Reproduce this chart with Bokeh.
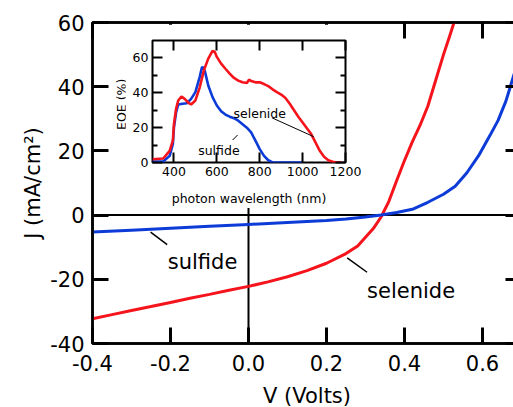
import math
from bokeh.plotting import figure
from bokeh.models import (Span, Label, LinearAxis, FixedTicker, CustomJSTickFormatter,
                          Range1d)
from bokeh.embed import file_html
from bokeh.resources import INLINE

FONT = "DejaVu Sans"
RED = "#f5141c"
BLUE = "#0c3bd8"

# ---------------- data: J-V curves (main) ----------------
v_selenide = [-0.4, -0.35, -0.3, -0.25, -0.2, -0.15, -0.1, -0.05, 0.0, 0.05, 0.1, 0.15,
              0.2, 0.25, 0.28, 0.3, 0.32, 0.34, 0.36, 0.38, 0.40, 0.42, 0.44, 0.46,
              0.48, 0.50, 0.515, 0.527]
j_selenide = [-32.3, -31.0, -29.7, -28.5, -27.2, -25.9, -24.7, -23.4, -22.2, -20.8, -19.2, -17.3,
              -15.0, -12.0, -9.6, -6.9, -4.2, -0.6, 4.3, 10.8, 17.0, 22.8, 28.0, 34.0,
              42.0, 50.0, 55.5, 60.0]

v_sulfide = [-0.4, -0.3, -0.2, -0.1, 0.0, 0.1, 0.2, 0.25, 0.3, 0.34, 0.38, 0.42, 0.46,
             0.5, 0.53, 0.56, 0.59, 0.62, 0.64, 0.66, 0.68, 0.70]
j_sulfide = [-5.3, -4.7, -4.1, -3.5, -2.9, -2.3, -1.7, -1.2, -0.6, 0.0, 0.8, 1.8, 4.0,
             6.5, 9.0, 13.2, 18.5, 25.0, 29.5, 35.5, 43.5, 51.0]

x_ticks = [-0.4, -0.2, 0.0, 0.2, 0.4, 0.6]
y_ticks = [-40, -20, 0, 20, 40, 60]

# ---------------- data: EQE spectra (inset) ----------------
wl_selenide = [300, 350, 380, 395, 400, 410, 420, 435, 450, 470, 480, 500, 520, 540, 560, 580,
               590, 600, 620, 640, 660, 680, 700, 720, 740, 750, 760, 780, 800, 820, 840,
               860, 880, 900, 920, 940, 960, 980, 1000, 1020, 1040, 1060, 1080, 1100, 1120,
               1140, 1160, 1180]
eqe_selenide = [1.9, 2.3, 6.7, 12.5, 22.0, 30.8, 35.6, 37.9, 36.5, 34.0, 33.3, 35.6, 43.0, 53.0,
                59.6, 64.0, 63.5, 60.6, 56.7, 53.8, 51.0, 48.5, 47.0, 46.0, 45.6, 47.5, 46.7,
                46.0, 46.0, 45.0, 43.8, 42.0, 40.4, 39.0, 37.0, 33.7, 30.0, 26.3, 23.0, 19.6,
                16.3, 11.5, 6.7, 3.3, 1.3, 0.4, 0.0, 0.0]

wl_sulfide = [300, 350, 380, 395, 400, 410, 420, 440, 460, 480, 500, 520, 530, 535, 545, 560,
              580, 600, 620, 640, 660, 680, 700, 720, 740, 760, 780, 800, 820, 840, 860, 1000]
eqe_sulfide = [0.5, 0.6, 3.8, 10.6, 20.0, 28.8, 33.3, 33.7, 34.0, 36.5, 40.4, 49.0, 54.4, 54.8,
               52.0, 44.2, 37.5, 32.7, 29.4, 27.5, 26.3, 25.4, 24.0, 22.0, 20.0, 17.3, 12.5,
               7.7, 3.8, 1.3, 0.0, 0.0]

ins_x_ticks = [400, 600, 800, 1000, 1200]
ins_y_ticks = [0, 20, 40, 60]
ins_y_minor = [10, 30, 50]

# ---------------- main figure ----------------
# The original picture is cropped on the right/bottom: the frame runs to 0.7 V,
# slightly past the visible window, so the canvas is a little larger than the window.
p = figure(width=525, height=418, x_range=Range1d(-0.4, 0.7), y_range=Range1d(-40, 60),
           output_backend="svg", toolbar_location=None,
           min_border_left=92, min_border_top=22, min_border_bottom=75, min_border_right=4)
p.outline_line_color = "black"
p.outline_line_width = 2.5
p.xgrid.visible = False
p.ygrid.visible = False
p.background_fill_color = "white"
p.border_fill_color = "white"

def style_main_axis(ax, ticks, show_labels=True):
    ax.ticker = FixedTicker(ticks=ticks)
    ax.major_tick_in = 16
    ax.major_tick_out = 0
    ax.major_tick_line_width = 3
    ax.major_tick_line_color = "black"
    ax.minor_tick_line_color = None
    ax.axis_line_width = 2.5
    ax.axis_line_color = "black"
    ax.major_label_text_font = FONT
    if show_labels:
        ax.major_label_text_font_size = "21px"
        ax.major_label_text_color = "black"
    else:
        ax.major_label_text_font_size = "0px"
        ax.major_label_text_color = None
        ax.major_label_standoff = 0

style_main_axis(p.xaxis[0], x_ticks)
p.xaxis[0].formatter = CustomJSTickFormatter(code="return tick.toFixed(1)")
p.xaxis[0].major_label_standoff = 11
p.xaxis[0].axis_label = "V (Volts)"
style_main_axis(p.yaxis[0], y_ticks)
p.yaxis[0].formatter = CustomJSTickFormatter(code="return tick.toFixed(0)")
p.yaxis[0].major_label_standoff = 8
p.yaxis[0].axis_label = "J (mA/cm²)"
for ax in (p.xaxis[0], p.yaxis[0]):
    ax.axis_label_text_font = FONT
    ax.axis_label_text_font_size = "21px"
    ax.axis_label_text_font_style = "normal"
    ax.axis_label_text_color = "black"
p.xaxis[0].axis_label_standoff = 10
p.yaxis[0].axis_label_standoff = 2

top_ax = LinearAxis()
style_main_axis(top_ax, x_ticks, show_labels=False)
p.add_layout(top_ax, "above")
right_ax = LinearAxis()
style_main_axis(right_ax, y_ticks, show_labels=False)
p.add_layout(right_ax, "right")

p.add_layout(Span(location=0, dimension="width", line_color="black", line_width=2, level="underlay"))
p.add_layout(Span(location=0, dimension="height", line_color="black", line_width=2, level="underlay"))

p.line(v_selenide, j_selenide, line_color=RED, line_width=3)
p.line(v_sulfide, j_sulfide, line_color=BLUE, line_width=3)

p.segment(x0=[-0.251], y0=[-5.3], x1=[-0.2085], y1=[-9.2], line_color="black", line_width=1.5)
p.segment(x0=[0.253], y0=[-13.3], x1=[0.304], y1=[-17.8], line_color="black", line_width=1.5)
p.add_layout(Label(x=-0.207, y=-14.7, text="sulfide", text_font=FONT, text_font_size="21px",
                   text_color="black", text_baseline="alphabetic", text_align="left"))
p.add_layout(Label(x=0.304, y=-23.5, text="selenide", text_font=FONT, text_font_size="21px",
                   text_color="black", text_baseline="alphabetic", text_align="left"))

# y title of the inset: it sits left of the inset canvas, inside the main frame
p.add_layout(Label(x=-0.3256, y=34.5, text="EQE (%)", text_font=FONT, text_font_size="12.5px",
                   text_color="black", text_baseline="alphabetic", text_align="center",
                   angle=math.pi / 2))

# ---------------- inset figure ----------------
ins = figure(frame_width=193, frame_height=122, x_range=Range1d(300, 1200), y_range=Range1d(0, 70),
             output_backend="svg", toolbar_location=None,
             min_border_left=27, min_border_top=16, min_border_right=17, min_border_bottom=44)
ins.xgrid.visible = False
ins.ygrid.visible = False
ins.outline_line_color = "black"
ins.outline_line_width = 2
ins.background_fill_color = "white"
ins.border_fill_color = "white"

def style_ins_axis(ax, ticks, minor=None, show_labels=True):
    ax.ticker = FixedTicker(ticks=ticks, minor_ticks=minor or [])
    ax.major_tick_in = 10
    ax.major_tick_out = 0
    ax.major_tick_line_width = 2
    ax.minor_tick_in = 5
    ax.minor_tick_out = 0
    ax.minor_tick_line_width = 2
    ax.minor_tick_line_color = "black" if minor else None
    ax.axis_line_color = None
    ax.major_label_text_font = FONT
    if show_labels:
        ax.major_label_text_font_size = "12.5px"
        ax.major_label_text_color = "black"
        ax.major_label_standoff = 4
    else:
        ax.major_label_text_font_size = "0px"
        ax.major_label_text_color = None
        ax.major_label_standoff = 0

style_ins_axis(ins.xaxis[0], ins_x_ticks)
ins.xaxis[0].axis_label = "photon wavelength (nm)"
ins.xaxis[0].axis_label_text_font = FONT
ins.xaxis[0].axis_label_text_font_size = "12.5px"
ins.xaxis[0].axis_label_text_font_style = "normal"
ins.xaxis[0].axis_label_text_color = "black"
ins.xaxis[0].axis_label_standoff = 12
style_ins_axis(ins.yaxis[0], ins_y_ticks, ins_y_minor)
ins_top = LinearAxis()
style_ins_axis(ins_top, ins_x_ticks, show_labels=False)
ins.add_layout(ins_top, "above")
ins_right = LinearAxis()
style_ins_axis(ins_right, ins_y_ticks, ins_y_minor, show_labels=False)
ins.add_layout(ins_right, "right")

ins.line(wl_sulfide, eqe_sulfide, line_color=BLUE, line_width=2.6)
ins.line(wl_selenide, eqe_selenide, line_color=RED, line_width=2.6)

ins.segment(x0=[857.7], y0=[25.6], x1=[1052], y1=[14.8], line_color="black", line_width=1)
ins.segment(x0=[673.7], y0=[12.9], x1=[697], y1=[15.8], line_color="black", line_width=1)
ins.add_layout(Label(x=678, y=27.9, text="selenide", text_font=FONT, text_font_size="12.5px",
                     text_color="black", text_baseline="alphabetic", text_align="left"))
ins.add_layout(Label(x=513, y=7.1, text="sulfide", text_font=FONT, text_font_size="12.5px",
                     text_color="black", text_baseline="alphabetic", text_align="left"))

ins.styles = {"position": "absolute", "left": "125px", "top": "24px", "z-index": "10"}

page_template = """
{% block preamble %}
<style>html, body { margin: 0; padding: 0; overflow: hidden; }</style>
{% endblock %}
"""

open("out.html", "w").write(file_html([p, ins], INLINE, template=page_template))
